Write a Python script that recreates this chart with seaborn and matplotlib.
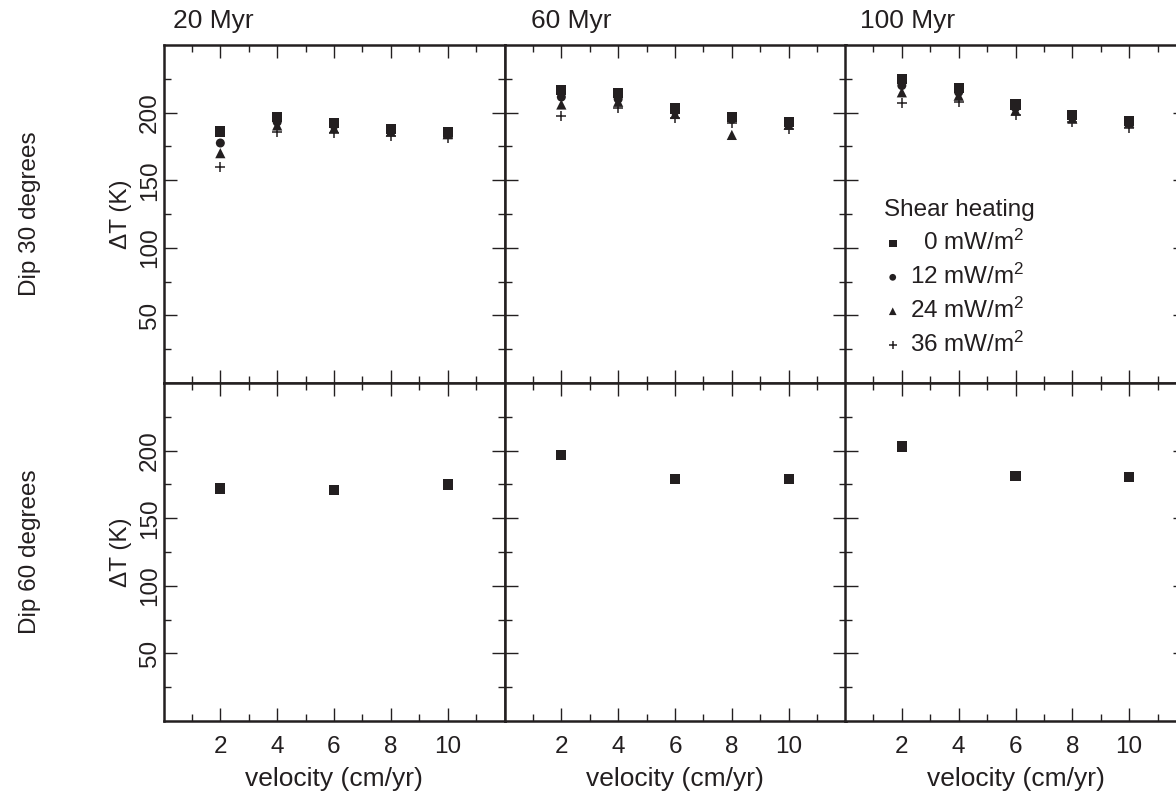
import matplotlib
matplotlib.use("Agg")
import matplotlib.pyplot as plt
import seaborn as sns
import pandas as pd
from matplotlib.ticker import FixedLocator

sns.set_theme(style="white")
plt.rcParams['font.family'] = ['Liberation Sans', 'DejaVu Sans']
plt.rcParams['mathtext.fontset'] = 'custom'
plt.rcParams['mathtext.rm'] = 'Liberation Sans'
plt.rcParams['mathtext.it'] = 'Liberation Sans:italic'
plt.rcParams['mathtext.bf'] = 'Liberation Sans:bold'

INK = '#231f20'

# ---------------- data ----------------
ages = ["20 Myr", "60 Myr", "100 Myr"]
dips = ["Dip 30 degrees", "Dip 60 degrees"]
shear_levels = ["0", "12", "24", "36"]
shear_labels = ["  0 mW/m$^2$", "12 mW/m$^2$", "24 mW/m$^2$", "36 mW/m$^2$"]
velocity = [2, 4, 6, 8, 10]
velocity_dip60 = [2, 6, 10]

# Dip 30 degrees, 20 Myr
d30_20_sh0 = [186.0, 196.5, 192.5, 188.0, 185.5]
d30_20_sh12 = [177.5, 193.0, 190.5, 187.0, 185.0]
d30_20_sh24 = [170.0, 190.5, 188.5, 186.0, 184.0]
d30_20_sh36 = [159.5, 186.0, 185.0, 183.0, 181.5]
# Dip 30 degrees, 60 Myr
d30_60_sh0 = [217.0, 214.5, 203.0, 196.5, 193.0]
d30_60_sh12 = [211.5, 210.0, 201.0, 195.0, 192.0]
d30_60_sh24 = [206.0, 208.0, 199.0, 183.5, 191.0]
d30_60_sh36 = [197.5, 203.5, 196.0, 192.0, 188.0]
# Dip 30 degrees, 100 Myr
d30_100_sh0 = [225.0, 218.0, 206.0, 198.0, 194.0]
d30_100_sh12 = [220.0, 215.0, 203.5, 196.5, 193.5]
d30_100_sh24 = [215.0, 212.5, 201.5, 195.5, 192.5]
d30_100_sh36 = [207.0, 208.0, 198.5, 193.0, 188.5]
# Dip 60 degrees (0 mW/m2 only)
d60_20 = [172.0, 171.0, 175.0]
d60_60 = [197.0, 179.0, 179.0]
d60_100 = [203.0, 181.5, 180.5]

dip30 = [
    [d30_20_sh0, d30_20_sh12, d30_20_sh24, d30_20_sh36],
    [d30_60_sh0, d30_60_sh12, d30_60_sh24, d30_60_sh36],
    [d30_100_sh0, d30_100_sh12, d30_100_sh24, d30_100_sh36],
]
dip60 = [d60_20, d60_60, d60_100]

# ---------------- styling ----------------
markers = ["s", "o", "^", "+"]
sizes = [54, 42, 54, 58]

fig = plt.figure(figsize=(11.76, 7.92), dpi=100)
W, H = 1176.0, 792.0
col_x = [163.5, 504.5, 845.0]
col_w = 341.0
row_top = [45.0, 383.0]
row_h = 338.0

axes = [[None] * 3 for _ in range(2)]
for r in range(2):
    for c in range(3):
        ax = fig.add_axes([col_x[c] / W, 1 - (row_top[r] + row_h) / H, col_w / W, row_h / H])
        axes[r][c] = ax

FS = 17.5      # tick labels, legend, row labels
FS_LAB = 19    # titles and axis labels

for c in range(3):
    # top row: dip 30
    ax = axes[0][c]
    for k in range(4):
        df = pd.DataFrame({"velocity": velocity, "dT": dip30[c][k]})
        kw = dict(color=INK, marker=markers[k], s=sizes[k], ax=ax, label=shear_labels[k], zorder=3)
        if markers[k] == "+":
            kw.update(linewidth=1.1)
        else:
            kw.update(linewidth=0, edgecolor="none")
        sns.scatterplot(data=df, x="velocity", y="dT", **kw)
    # bottom row: dip 60
    ax = axes[1][c]
    df = pd.DataFrame({"velocity": velocity_dip60, "dT": dip60[c]})
    sns.scatterplot(data=df, x="velocity", y="dT", color=INK, marker="s", s=54,
                    linewidth=0, edgecolor="none", ax=ax, zorder=3)

for r in range(2):
    for c in range(3):
        ax = axes[r][c]
        ax.set_xlim(0, 12)
        ax.set_ylim(0, 250)
        ax.xaxis.set_major_locator(FixedLocator([2, 4, 6, 8, 10]))
        ax.xaxis.set_minor_locator(FixedLocator([1, 3, 5, 7, 9, 11]))
        ax.yaxis.set_major_locator(FixedLocator([50, 100, 150, 200]))
        ax.yaxis.set_minor_locator(FixedLocator([25, 75, 125, 175, 225]))
        ax.tick_params(which='both', direction='in', top=True, right=True,
                       bottom=True, left=True, color=INK, width=1.0,
                       labelsize=FS, labelcolor=INK)
        ax.tick_params(which='major', length=9.5)
        ax.tick_params(which='minor', length=5)
        ax.tick_params(axis='x', pad=11)
        ax.tick_params(axis='y', pad=2, labelrotation=90)
        for lab in ax.get_yticklabels():
            lab.set_va('center')
        for sp in ax.spines.values():
            sp.set_linewidth(1.8)
            sp.set_color(INK)
            sp.set_zorder(4)
        ax.set_facecolor('white')
        if c == 0:
            ax.set_ylabel("\u0394T (K)", fontsize=FS, color=INK, labelpad=5)
        else:
            ax.set_ylabel("")
            ax.tick_params(axis='y', labelleft=False)
        if r == 1:
            ax.set_xlabel("velocity (cm/yr)", fontsize=FS_LAB, color=INK, labelpad=6)
        else:
            ax.set_xlabel("")
            ax.tick_params(axis='x', labelbottom=False)
        leg = ax.get_legend()
        if leg is not None:
            leg.remove()

# column titles
title_x = [0.027, 0.078, 0.044]
for c in range(3):
    axes[0][c].text(title_x[c], 1.035, ages[c], transform=axes[0][c].transAxes,
                    ha='left', va='bottom', fontsize=FS_LAB, color=INK)

# row labels
fig.text(30 / W, 1 - 214 / H, dips[0], rotation=90, ha='center', va='center', fontsize=FS, color=INK)
fig.text(30 / W, 1 - 552 / H, dips[1], rotation=90, ha='center', va='center', fontsize=FS, color=INK)

# legend in top-right panel
axl = axes[0][2]
handles = axl.collections[:4]
leg = axl.legend(handles, shear_labels, title="Shear heating", loc="upper left",
                 bbox_to_anchor=(0.115, 0.545), frameon=False, fontsize=FS,
                 title_fontsize=FS, markerscale=0.75, handletextpad=0.35,
                 labelspacing=0.36, handlelength=0.7, borderpad=0, borderaxespad=0,
                 alignment='left')
for t in leg.get_texts():
    t.set_color(INK)
leg.get_title().set_color(INK)

fig.savefig("out.png", dpi=100)
